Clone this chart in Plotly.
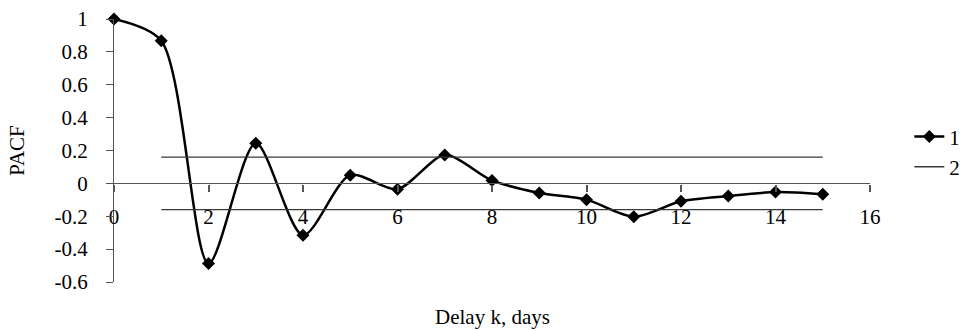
import plotly.graph_objects as go

# ---- data ----
lags = list(range(16))
pacf = [1.0, 0.868, -0.488, 0.244, -0.315, 0.05, -0.035, 0.172,
        0.018, -0.058, -0.099, -0.203, -0.109, -0.077, -0.053, -0.066]
conf_lags = [1, 15]
conf_level = 0.16
series_names = ["1", "2"]
xtick_vals = [0, 2, 4, 6, 8, 10, 12, 14, 16]
ytick_vals = [1, 0.8, 0.6, 0.4, 0.2, 0, -0.2, -0.4, -0.6]
ytick_text = ["1", "0.8", "0.6", "0.4", "0.2", "0", "-0.2", "-0.4", "-0.6"]
x_title = "Delay k, days"
y_title = "PACF"

FONT = "Liberation Serif"
AXIS_COLOR = "#555555"
FS = 21

band_x = [conf_lags[0], conf_lags[1], None, conf_lags[0], conf_lags[1]]
band_y = [conf_level, conf_level, None, -conf_level, -conf_level]

fig = go.Figure()
fig.add_trace(go.Scatter(
    x=lags, y=pacf, name=series_names[0], mode="lines+markers",
    line=dict(color="black", width=2.5, shape="spline", smoothing=0.8),
    marker=dict(symbol="diamond", size=10, color="black"),
    cliponaxis=False,
))
fig.add_trace(go.Scatter(
    x=band_x, y=band_y, name=series_names[1], mode="lines",
    line=dict(color="#3a3a3a", width=1.3),
    connectgaps=False,
))

fig.update_layout(
    width=978, height=331,
    margin=dict(l=114, r=108, t=19, b=49, autoexpand=False),
    paper_bgcolor="white", plot_bgcolor="white",
    font=dict(family=FONT, size=FS, color="black"),
    showlegend=True,
    legend=dict(x=1.052, xanchor="left", y=0.495, yanchor="middle",
                font=dict(family=FONT, size=FS, color="black"),
                bgcolor="rgba(0,0,0,0)", itemwidth=30),
    xaxis=dict(
        range=[0, 16], tickvals=xtick_vals,
        showgrid=False, zeroline=False,
        showline=True, linecolor=AXIS_COLOR, linewidth=1.3,
        ticks="outside", ticklen=7, tickcolor=AXIS_COLOR, tickwidth=1.5,
        anchor="free", position=0.375,
        ticklabelstandoff=7,
    ),
    yaxis=dict(
        range=[-0.6, 1], tickvals=ytick_vals, ticktext=ytick_text,
        showgrid=False, zeroline=False,
        showline=True, linecolor=AXIS_COLOR, linewidth=1.3,
        ticks="outside", ticklen=7, tickcolor=AXIS_COLOR, tickwidth=1.3,
        ticklabelstandoff=14,
        title=dict(text=y_title, font=dict(family=FONT, size=FS), standoff=24),
    ),
    annotations=[dict(
        text=x_title, xref="paper", yref="paper", x=0.5, y=-0.133,
        xanchor="center", yanchor="middle", showarrow=False,
        font=dict(family=FONT, size=FS, color="black"),
    )],
)

fig.write_html("out.html")
